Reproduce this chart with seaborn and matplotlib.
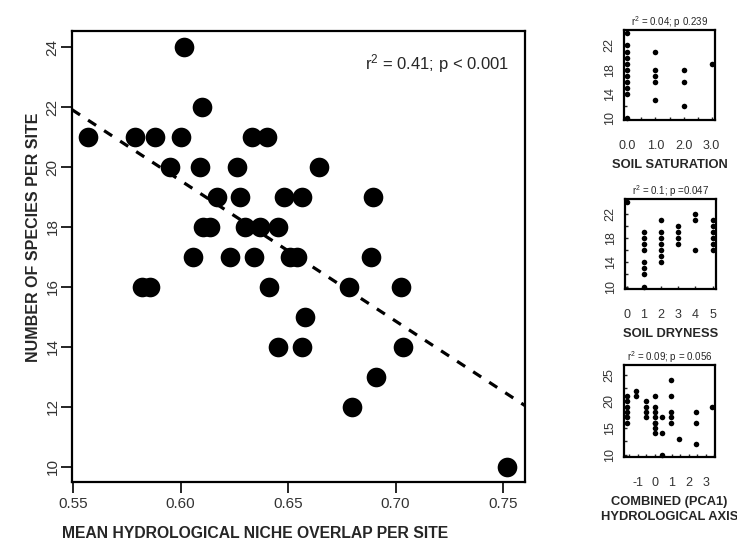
import numpy as np
import pandas as pd
import matplotlib
matplotlib.use("Agg")
import matplotlib.pyplot as plt
import seaborn as sns
from matplotlib.ticker import FixedLocator

# ---------------- data ----------------
overlap = [0.6016, 0.6101,
           0.5571, 0.5788, 0.5881, 0.6002, 0.6334, 0.6404,
           0.5951, 0.6091, 0.6262, 0.6646,
           0.6168, 0.6277, 0.6481, 0.6566, 0.6897,
           0.6106, 0.6137, 0.6300, 0.6370, 0.6455,
           0.6057, 0.6232, 0.6343, 0.6510, 0.6540, 0.6886,
           0.5822, 0.5856, 0.6412, 0.6784, 0.7026,
           0.6580,
           0.6455, 0.6564, 0.7036,
           0.6909, 0.6796, 0.7520]
species = [24, 22,
           21, 21, 21, 21, 21, 21,
           20, 20, 20, 20,
           19, 19, 19, 19, 19,
           18, 18, 18, 18, 18,
           17, 17, 17, 17, 17, 17,
           16, 16, 16, 16, 16,
           15,
           14, 14, 14,
           13, 12, 10]

sat_x = [0]*11 + [1]*5 + [2]*3 + [3]
sat_y = [24, 22, 21, 20, 19, 18, 17, 16, 15, 14, 10,
         21, 18, 17, 16, 13,
         18, 16, 12,
         19]

dry_x = [0] + [1]*8 + [2]*7 + [3]*4 + [4]*3 + [5]*6
dry_y = [24,
         19, 18, 17, 16, 14, 13, 12, 10,
         21, 19, 18, 17, 16, 15, 14,
         20, 19, 18, 17,
         22, 21, 16,
         21, 20, 19, 18, 17, 16]

pca_x = ([-1.61]*6 + [-1.1]*2 + [-0.51]*4 + [0.0]*8 + [0.45]*3 +
         [0.94]*5 + [1.43] + [2.41]*3 + [3.35])
pca_y = ([21, 20, 19, 18, 17, 16] + [22, 21] + [20, 19, 18, 17] +
         [21, 19, 18, 17, 16, 16, 15, 14] + [17, 14, 10] +
         [24, 21, 18, 17, 16] + [13] + [18, 16, 12] + [19])

main_text = "r$^2$ = 0.41; p < 0.001"
sub_titles = ["r$^2$ = 0.04; p 0.239", "r$^2$ = 0.1; p =0.047", "r$^2$ = 0.09; p = 0.056"]
sub_xlabels = ["SOIL SATURATION", "SOIL DRYNESS", "COMBINED (PCA1)\nHYDROLOGICAL AXIS"]

# ---------------- style ----------------
sns.set_theme(style="ticks")
plt.rcParams['font.family'] = ['Liberation Sans', 'DejaVu Sans']
plt.rcParams['mathtext.fontset'] = 'custom'
plt.rcParams['mathtext.rm'] = 'Liberation Sans'
plt.rcParams['mathtext.it'] = 'Liberation Sans:italic'
tick_col = '#333333'

fig = plt.figure(figsize=(7.37, 5.47), dpi=100)

# ---------------- main panel ----------------
ax = fig.add_axes([0.0977, 0.1188, 0.7123 - 0.0977, 0.9439 - 0.1188])
df = pd.DataFrame({"overlap": overlap, "species": species})
sns.scatterplot(data=df, x="overlap", y="species", ax=ax, s=200,
                color="black", edgecolor="black", linewidth=0, zorder=3)
xlim = (0.5495, 0.7602)
ax.set_xlim(*xlim)
ax.set_ylim(9.49, 24.55)
coef = np.polyfit(overlap, species, 1)
lx = np.array(xlim)
ax.plot(lx, np.polyval(coef, lx), color="black", lw=2.3, ls=(0, (3, 3)), zorder=2)
ax.set_xticks([0.55, 0.60, 0.65, 0.70, 0.75])
ax.set_yticks([10, 12, 14, 16, 18, 20, 22, 24])
ax.tick_params(axis='both', direction='out', length=8, width=1.2, labelsize=11,
               labelcolor=tick_col, color='black')
ax.tick_params(axis='x', pad=3)
ax.tick_params(axis='y', pad=1)
for lab in ax.get_yticklabels():
    lab.set_rotation(90)
    lab.set_va('center')
ax.set_xlabel("MEAN HYDROLOGICAL NICHE OVERLAP PER SITE", fontsize=11.3,
              fontweight='bold')
ax.xaxis.set_label_coords(0.404, -0.097)
ax.set_ylabel("NUMBER OF SPECIES PER SITE", fontsize=11.5, fontweight='bold')
ax.yaxis.set_label_coords(-0.068, 0.543)
for sp in ax.spines.values():
    sp.set_visible(True)
    sp.set_linewidth(1.6)
    sp.set_color('black')
ax.text(0.965, 0.928, main_text, transform=ax.transAxes, ha='right', va='center',
        fontsize=12)

# ---------------- small panels ----------------
def small_panel(rect, x, y, xlim, ylim, xticks, xticklabels, xminor, yticks,
                yminor, title, xlabel):
    a = fig.add_axes(rect)
    d = pd.DataFrame({"x": x, "y": y})
    sns.scatterplot(data=d, x="x", y="y", ax=a, s=16, color="black",
                    edgecolor="black", linewidth=0, clip_on=False, zorder=3)
    a.set_xlim(*xlim)
    a.set_ylim(*ylim)
    a.set_xticks(xticks)
    a.set_xticklabels(xticklabels)
    a.xaxis.set_minor_locator(FixedLocator(xminor))
    a.set_yticks(yticks)
    a.yaxis.set_minor_locator(FixedLocator(yminor))
    a.tick_params(axis='both', which='both', direction='in', length=2.5,
                  width=1.0, labelsize=9, labelcolor=tick_col)
    a.tick_params(axis='x', which='major', pad=14.5)
    a.tick_params(axis='y', which='major', pad=6)
    for lab in a.get_yticklabels():
        lab.set_rotation(90)
        lab.set_va('center')
    a.set_xlabel(xlabel, fontsize=9.3, fontweight='bold', labelpad=5,
                 linespacing=1.3)
    a.set_ylabel("")
    a.set_title(title, fontsize=7, pad=3)
    for sp in a.spines.values():
        sp.set_visible(True)
        sp.set_linewidth(1.6)
        sp.set_color('black')
    return a

small_panel([0.8467, 0.7806, 0.9702 - 0.8467, 0.9452 - 0.7806], sat_x, sat_y,
            (-0.12, 3.12), (9.75, 24.55), [0, 1, 2, 3],
            ["0.0", "1.0", "2.0", "3.0"], np.arange(0, 3.01, 0.5),
            [10, 14, 18, 22], np.arange(10, 25, 2),
            sub_titles[0], sub_xlabels[0])

small_panel([0.848, 0.4717, 0.9715 - 0.848, 0.6362 - 0.4717], dry_x, dry_y,
            (-0.1, 5.2), (9.6, 24.44), [0, 1, 2, 3, 4, 5],
            ["0", "1", "2", "3", "4", "5"], np.arange(0, 6, 1),
            [10, 14, 18, 22], np.arange(10, 25, 2),
            sub_titles[1], sub_xlabels[1])

small_panel([0.8467, 0.1645, 0.9702 - 0.8467, 0.3327 - 0.1645], pca_x, pca_y,
            (-1.8, 3.55), (9.55, 26.8), [-1, 0, 1, 2, 3],
            ["-1", "0", "1", "2", "3"], np.arange(-1.5, 3.6, 0.5),
            [10, 15, 20, 25], np.arange(10, 26, 2.5),
            sub_titles[2], sub_xlabels[2])

fig.savefig("out.png", dpi=100)
